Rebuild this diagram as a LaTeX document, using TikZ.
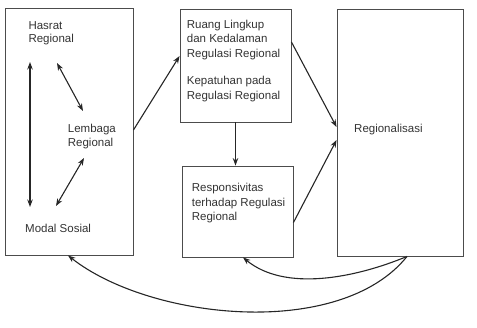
\documentclass[tikz,border=0pt]{standalone}
\usepackage{fontspec}
\setmainfont{Liberation Sans}
\usetikzlibrary{arrows.meta,calc}
\begin{document}
\begin{tikzpicture}[x=1pt,y=-1pt,
  box/.style={draw=black!70,line width=0.9pt,inner sep=0,minimum width=#1},
  lbl/.style={anchor=base west,align=left,inner sep=0,text=black!80,font=\fontsize{11.5}{14.5}\selectfont},
  conn/.style={draw=black!85,line width=1.1pt,-{Stealth[length=7.5pt,width=5.5pt]}},
  dconn/.style={draw=black!85,line width=1.1pt,{Stealth[length=7.5pt,width=5.5pt]}-{Stealth[length=7.5pt,width=5.5pt]}}]
\useasboundingbox (0,0) rectangle (477,327);
\node[box=128pt,minimum height=247pt] (left) at (69,131.5) {};
\node[box=111pt,minimum height=113pt] (ruang) at (235.5,65.5) {};
\node[box=111pt,minimum height=91pt] (resp) at (237.5,211.5) {};
\node[box=126pt,minimum height=247pt] (regio) at (400,132.5) {};
\node[lbl,font=\fontsize{11.5}{13.6}\selectfont] (hasrat) at (28.3,42.7) {Hasrat\\Regional};
\node[lbl,font=\fontsize{11.5}{14}\selectfont] (lembaga) at (67.7,146) {Lembaga\\Regional};
\node[lbl] (modal) at (25,232) {Modal Sosial};
\node[lbl] (ruangt) at (186.7,57) {Ruang Lingkup\\dan Kedalaman\\Regulasi Regional};
\node[lbl] (kepat) at (186.7,99) {Kepatuhan pada\\Regulasi Regional};
\node[lbl] (respt) at (191.7,220.7) {Responsivitas\\terhadap Regulasi\\Regional};
\node[lbl] (regiot) at (354,132.7) {Regionalisasi};
\coordinate (v1) at (30,62);
\coordinate (v2) at (30,207);
\coordinate (d1) at (57,63);
\coordinate (d2) at (83,111);
\coordinate (d3) at (84,158);
\coordinate (d4) at (56,206);
\draw[dconn] (v1) -- (v2);
\draw[dconn] (d1) -- (d2);
\draw[dconn] (d3) -- (d4);
\draw[conn] ($(left.east)+(0,-1.5)$) -- ($(ruang.west)+(0,-9.5)$);
\draw[conn] (ruang.south) -- (ruang.south |- resp.north);
\draw[conn] ($(ruang.east)+(0,-23.5)$) -- ($(regio.west)+(0,-5.5)$);
\draw[conn] ($(resp.east)+(0,11)$) -- ($(regio.west)+(0,7.5)$);
\draw[conn] ($(regio.south)+(7,0)$) .. controls (355,278) and (285,292) .. ($(resp.south)+(5.5,0)$);
\draw[conn] ($(regio.south)+(7,0)$) .. controls (340,340) and (150,320) .. ($(left.south)+(-1,0)$);
\end{tikzpicture}
\end{document}
